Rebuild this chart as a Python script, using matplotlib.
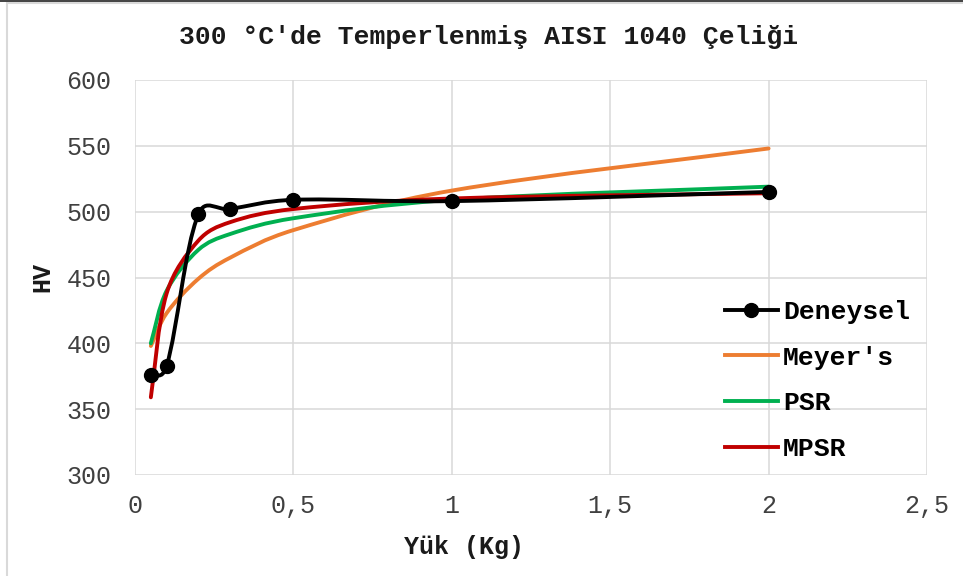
import numpy as np
import matplotlib.pyplot as plt
from matplotlib.path import Path
from matplotlib.patches import PathPatch, Rectangle
from matplotlib.lines import Line2D

# load (Kg) and hardness values
yuk = [0.05, 0.1, 0.2, 0.3, 0.5, 1.0, 2.0]
deneysel = [376, 383, 498, 502, 509, 508, 515]
meyer = [398, 423, 449, 465, 486, 516, 548]
psr = [400, 440, 471, 483, 495, 509, 519]
mpsr = [359, 438, 478, 492, 502, 510, 514]

seriler = ['Deneysel', "Meyer's", 'PSR', 'MPSR']
renkler = ['black', '#ED7D31', '#00B050', '#C00000']

XMAX, YMIN, YMAX = 2.5, 300, 600
mono = 'Liberation Mono'


def smooth_path(x, y, sx, sy):
    # Excel-like smoothed line: cubic bezier through the points
    p = np.column_stack([x, y]).astype(float)
    s = np.array([sx, sy])
    n = len(p)
    verts = [p[0]]
    codes = [Path.MOVETO]

    def ctrl(i, out):
        prev = p[max(i - 1, 0)]
        nxt = p[min(i + 1, n - 1)]
        t = nxt - prev
        l_in = np.linalg.norm((p[i] - prev) * s)
        l_out = np.linalg.norm((nxt - p[i]) * s)
        tot = l_in + l_out
        if tot == 0:
            return p[i]
        w = (l_out if out else l_in) / tot / 3.0
        f = 0.5 * (w + 1 / 6.0)
        return p[i] + t * f if out else p[i] - t * f

    for i in range(n - 1):
        verts += [ctrl(i, True), ctrl(i + 1, False), p[i + 1]]
        codes += [Path.CURVE4] * 3
    return Path(verts, codes)


fig = plt.figure(figsize=(9.63, 5.76), dpi=100)
ax = fig.add_axes([135 / 963, 1 - 475 / 576, 792 / 963, 395 / 576])

sx = 792 / XMAX
sy = 395 / (YMAX - YMIN)
veriler = [deneysel, meyer, psr, mpsr]
for i in [1, 2, 3, 0]:
    patch = PathPatch(smooth_path(yuk, veriler[i], sx, sy), fill=False,
                      edgecolor=renkler[i], lw=2.8, capstyle='round',
                      joinstyle='round', zorder=3)
    ax.add_patch(patch)
ax.plot(yuk, deneysel, 'o', color='black', ms=10, zorder=4)

ax.set_xlim(0, XMAX)
ax.set_ylim(YMIN, YMAX)
ax.set_xticks(np.arange(0, 2.51, 0.5))
ax.set_xticklabels(['0', '0,5', '1', '1,5', '2', '2,5'])
ax.set_yticks(np.arange(300, 601, 50))
ax.grid(True, color='#D9D9D9', lw=1.1, zorder=0)
ax.set_axisbelow(True)
for sp in ax.spines.values():
    sp.set_visible(False)
ax.tick_params(length=0, labelsize=18, labelcolor='#404040')
ax.tick_params(axis='x', pad=14)
ax.tick_params(axis='y', pad=17)
for lb in ax.get_xticklabels() + ax.get_yticklabels():
    lb.set_fontfamily(mono)

fig.text(0.507, 1 - 37 / 576, "300 °C'de Temperlenmiş AISI 1040 Çeliği",
         ha='center', va='center', fontsize=19, fontweight='bold',
         family=mono, color='#1a1a1a')
fig.text(464 / 963, 1 - 547 / 576, 'Yük (Kg)', ha='center', va='center',
         fontsize=18, fontweight='bold', family=mono, color='#1a1a1a')
fig.text(42 / 963, 1 - 277 / 576, 'HV', ha='center', va='center',
         rotation=90, fontsize=18, fontweight='bold', family=mono,
         color='#1a1a1a')

handles = [Line2D([], [], color=renkler[0], lw=2.8, marker='o', ms=10)]
handles += [Line2D([], [], color=c, lw=2.8) for c in renkler[1:]]
leg = fig.legend(handles, seriler, loc='upper left',
                 bbox_to_anchor=(725 / 963, 1 - 300 / 576), frameon=False,
                 prop={'family': mono, 'weight': 'bold', 'size': 19},
                 handlelength=2.0, handletextpad=0.2, labelspacing=0.82,
                 numpoints=1, borderpad=0, borderaxespad=0)

# chart border
fig.patches.append(Rectangle((7 / 963, -0.01), 1.0, 1.005, fill=False,
                             edgecolor='#D9D9D9', lw=1.5,
                             transform=fig.transFigure, figure=fig))
fig.add_artist(Line2D([0, 1], [0.999, 0.999], color='#222222', lw=1.2,
                      transform=fig.transFigure))

fig.savefig('out.png', dpi=100)
